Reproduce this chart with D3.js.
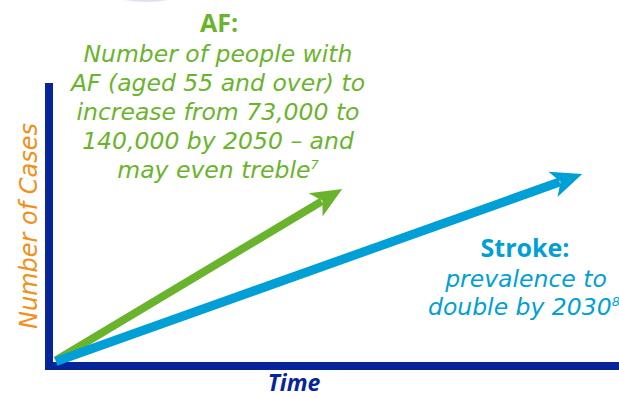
<!DOCTYPE html>
<html><head><meta charset="utf-8">
<script src="https://cdn.jsdelivr.net/npm/d3@7"></script>
<style>
html,body{margin:0;padding:0;background:#fff;overflow:hidden}
svg{display:block}
</style></head>
<body>
<script>
// ---- data ----
const series = ["AF", "Stroke"];
const startX = [0.5, 0.5];
const startY = [0.6, 0.2];
const endX = [51.1, 93.5];
const endY = [62.0, 67.4];
const colors = ["#6ab42d", "#009fd6"];
const xLabel = "Time";
const yLabel = "Number of Cases";
const afTitle = "AF:";
const afLines = ["Number of people with", "AF (aged 55 and over) to", "increase from 73,000 to", "140,000 by 2050 \u2013 and", "may even treble"];
const afNote = "7";
const strokeTitle = "Stroke:";
const strokeLines = ["prevalence to", "double by 2030"];
const strokeNote = "8";

const W = 619, H = 397;
const navy = "#06259a";
const orange = "#f39019";
const svg = d3.select("body").append("svg").attr("width", W).attr("height", H);

// decorative arc at top
svg.append("circle").attr("cx", 146).attr("cy", -125).attr("r", 127).attr("fill", "#dfe1f2");

const x = d3.scaleLinear().domain([0, 100]).range([53, 619]);
const y = d3.scaleLinear().domain([0, 100]).range([362, 83]);

// axes (thick bars)
svg.append("rect").attr("x", 45).attr("y", y(100)).attr("width", 8).attr("height", y(0) - y(100) + 8).attr("fill", navy);
svg.append("rect").attr("x", 45).attr("y", y(0)).attr("width", W - 45).attr("height", 8).attr("fill", navy);

// arrows
series.forEach((s, i) => {
  const x0 = x(startX[i]), y0 = y(startY[i]), x1 = x(endX[i]), y1 = y(endY[i]);
  const dx = x1 - x0, dy = y1 - y0, L = Math.hypot(dx, dy);
  const ux = dx / L, uy = dy / L, nx = -uy, ny = ux;
  const hl = 31, hw = 13.5, notch = 24;
  const g = svg.append("g");
  g.append("line").attr("x1", x0).attr("y1", y0)
    .attr("x2", x1 - ux * notch).attr("y2", y1 - uy * notch)
    .attr("stroke", colors[i]).attr("stroke-width", i === 0 ? 8 : 9);
  const pts = [
    [x1, y1],
    [x1 - ux * hl + nx * hw, y1 - uy * hl + ny * hw],
    [x1 - ux * (notch - 1), y1 - uy * (notch - 1)],
    [x1 - ux * hl - nx * hw, y1 - uy * hl - ny * hw]
  ];
  g.append("polygon").attr("points", pts.map(p => p.join(",")).join(" ")).attr("fill", colors[i]);
});

const font = "'DejaVu Sans', 'Open Sans', sans-serif";
const fontB = "'Open Sans', 'DejaVu Sans', sans-serif";

// axis labels
svg.append("text").attr("x", 294).attr("y", 391).attr("text-anchor", "middle")
  .attr("font-family", fontB).attr("font-style", "italic").attr("font-weight", 700)
  .attr("font-size", 23).attr("fill", navy).text(xLabel);
svg.append("text").attr("transform", "translate(37,226) rotate(-90)").attr("text-anchor", "middle")
  .attr("font-family", font).attr("font-style", "italic").attr("font-weight", 400)
  .attr("font-size", 24).attr("fill", orange).text(yLabel);

// AF annotation
svg.append("text").attr("x", 219).attr("y", 32).attr("text-anchor", "middle")
  .attr("font-family", fontB).attr("font-weight", 700).attr("font-size", 25)
  .attr("fill", colors[0]).text(afTitle);
afLines.forEach((t, i) => {
  const tx = svg.append("text").attr("x", 218).attr("y", 62 + i * 29).attr("text-anchor", "middle")
    .attr("font-family", font).attr("font-style", "italic").attr("font-size", 23.5)
    .attr("fill", colors[0]);
  tx.append("tspan").text(t);
  if (i === afLines.length - 1) tx.append("tspan").attr("dy", -9).attr("font-size", 13).text(afNote);
});

// Stroke annotation
svg.append("text").attr("x", 525).attr("y", 257).attr("text-anchor", "middle")
  .attr("font-family", fontB).attr("font-weight", 700).attr("font-size", 25)
  .attr("fill", colors[1]).text(strokeTitle);
strokeLines.forEach((t, i) => {
  const tx = svg.append("text").attr("x", i === 0 ? 526 : 428).attr("y", 287 + i * 28)
    .attr("text-anchor", i === 0 ? "middle" : "start")
    .attr("font-family", font).attr("font-style", "italic").attr("font-size", 23.5)
    .attr("fill", colors[1]);
  tx.append("tspan").text(t);
  if (i === strokeLines.length - 1) tx.append("tspan").attr("dy", -9).attr("font-size", 13).text(strokeNote);
});
</script>
</body></html>
